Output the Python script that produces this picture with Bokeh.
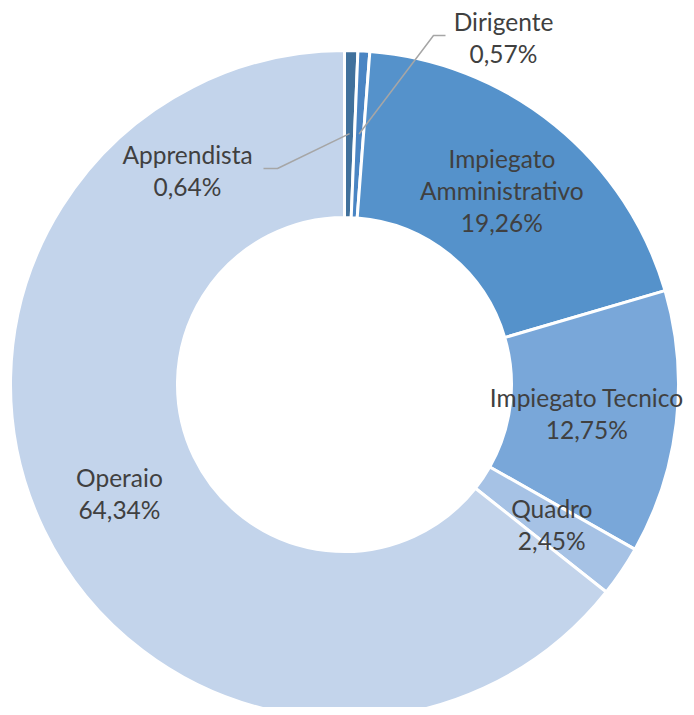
import math
from bokeh.plotting import figure
from bokeh.models import ColumnDataSource, Range1d
from bokeh.core.properties import value
from bokeh.embed import file_html
from bokeh.resources import INLINE

# ---- data ----
categories = ["Apprendista", "Dirigente", "Impiegato\nAmministrativo",
              "Impiegato Tecnico", "Quadro", "Operaio"]
shares = [0.64, 0.57, 19.26, 12.75, 2.45, 64.34]
colors = ["#41719C", "#4A85C3", "#5592CB", "#79A7D9", "#A6C2E5", "#C3D4EB"]

# ---- layout ----
W, H = 686, 707
CX, CY = 344, 384          # donut centre inside the figure (px)
R_OUT, R_IN = 334, 167
R_LAB = 250
FONT = "Lato"
FSIZE = "24.5px"
TXT = "#404040"
LH = 1.1
nudge_x = {3: -6}          # keep the wide label inside the canvas

total = sum(shares)
starts, ends, mids = [], [], []
cum = 0.0
for v in shares:
    a0 = math.pi / 2 - 2 * math.pi * cum / total
    cum += v
    a1 = math.pi / 2 - 2 * math.pi * cum / total
    starts.append(a0)
    ends.append(a1)
    mids.append((a0 + a1) / 2)

labels = [f"{c}\n{v:.2f}".replace(".", ",") + "%" for c, v in zip(categories, shares)]

p = figure(width=W, height=H, output_backend="svg", toolbar_location=None,
           x_axis_type=None, y_axis_type=None, min_border=0,
           x_range=Range1d(-CX, W - CX), y_range=Range1d(-(H - CY), CY))
p.outline_line_color = None
p.grid.visible = False
p.background_fill_color = "white"

src = ColumnDataSource(dict(start=starts, end=ends, color=colors))
p.annular_wedge(x=0, y=0, inner_radius=R_IN, outer_radius=R_OUT,
                start_angle="start", end_angle="end", direction="clock",
                fill_color="color", line_color="white", line_width=3, source=src)

# labels inside slices (index 2..5)
inner_idx = [2, 3, 4, 5]
lx = [R_LAB * math.cos(mids[i]) + nudge_x.get(i, 0) for i in inner_idx]
ly = [R_LAB * math.sin(mids[i]) for i in inner_idx]
p.text(x=lx, y=ly, text=[labels[i] for i in inner_idx],
       text_align="center", text_baseline="middle",
       text_font=value(FONT), text_font_size=FSIZE, text_color=TXT,
       text_line_height=LH)

# outside labels with leader lines (Apprendista, Dirigente)
out_pos = {0: (-157, 214), 1: (159, 347)}
elbows = {0: [(-67, 216), (-81, 216)], 1: [(89, 349), (101, 349)]}
R_ANCH = 251
for i, (tx, ty) in out_pos.items():
    ax = R_ANCH * math.cos(mids[i])
    ay = R_ANCH * math.sin(mids[i])
    xs = [ax] + [e[0] for e in elbows[i]]
    ys = [ay] + [e[1] for e in elbows[i]]
    p.line(xs, ys, line_color="#A6A6A6", line_width=1.5)
    p.text(x=[tx], y=[ty], text=[labels[i]],
           text_align="center", text_baseline="middle",
           text_font=value(FONT), text_font_size=FSIZE, text_color=TXT,
           text_line_height=LH)

open("out.html", "w").write(file_html(p, INLINE))
